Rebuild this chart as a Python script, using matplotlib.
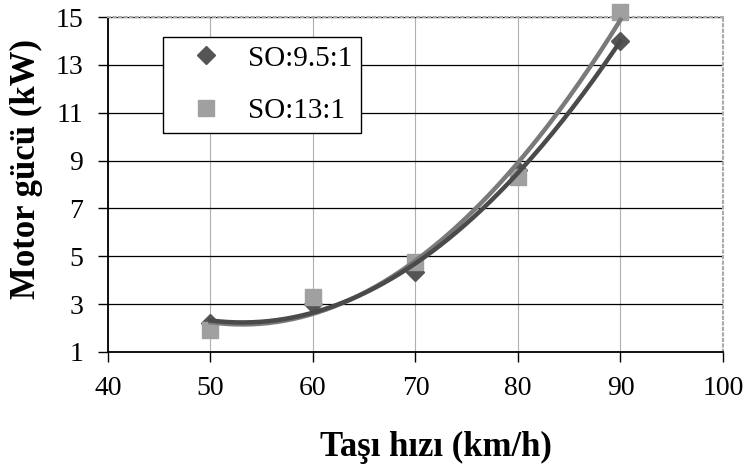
import matplotlib.pyplot as plt
import numpy as np

# Data
hiz = [50, 60, 70, 80, 90]
so_95 = [2.2, 3.0, 4.35, 8.6, 14.0]
so_13 = [1.9, 3.3, 4.75, 8.3, 15.2]

plt.rcParams['font.family'] = ['Liberation Serif', 'DejaVu Serif']

fig = plt.figure(figsize=(7.52, 4.71), dpi=100)
ax = fig.add_axes([0.1436, 0.2527, 0.8178, 0.7112])

# markers first, 2nd order trend lines drawn over them
ax.plot(hiz, so_95, "D", color="#555555", ms=9, ls="none", label="SO:9.5:1",
        zorder=3, clip_on=False)
ax.plot(hiz, so_13, "s", color="#a0a0a0", ms=11, ls="none", label="SO:13:1",
        zorder=3, clip_on=False)

xs = np.linspace(50, 90, 200)
p95 = np.polyfit(hiz, so_95, 2)
p13 = np.polyfit(hiz, so_13, 2)
ax.plot(xs, np.polyval(p13, xs), color="#7a7a7a", lw=3.2, zorder=4)
ax.plot(xs, np.polyval(p95, xs), color="#4a4a4a", lw=3.2, zorder=4)

ax.set_xlim(40, 100)
ax.set_ylim(1, 15)
ax.set_xticks(range(40, 101, 10))
ax.set_yticks(range(1, 16, 2))
ax.tick_params(direction="out", length=7, width=1, labelsize=20)
ax.tick_params(axis="x", pad=10)
ax.tick_params(axis="y", pad=11)

ax.xaxis.grid(True, color="#b0b0b0", lw=0.8)
ax.yaxis.grid(True, color="black", lw=0.9)
ax.set_axisbelow(True)

for s in ("top", "right"):
    ax.spines[s].set_color("#aaaaaa")
    ax.spines[s].set_linestyle(":")
    ax.spines[s].set_linewidth(1.5)
for s in ("left", "bottom"):
    ax.spines[s].set_color("black")
    ax.spines[s].set_linewidth(1.3)

ax.set_xlabel("Taşı hızı (km/h)", fontsize=25, fontweight="bold")
ax.set_ylabel("Motor gücü (kW)", fontsize=25, fontweight="bold")
ax.xaxis.set_label_coords(0.533, -0.235)
ax.yaxis.set_label_coords(-0.106, 0.545)

leg = ax.legend(loc="upper left", bbox_to_anchor=(0.089, 0.94), fontsize=21,
                fancybox=False, edgecolor="black", framealpha=1,
                borderaxespad=0, borderpad=0.28, labelspacing=0.9,
                handletextpad=0.25, handlelength=2.4)
leg.get_frame().set_linewidth(1.0)

fig.savefig("out.png", dpi=100)
